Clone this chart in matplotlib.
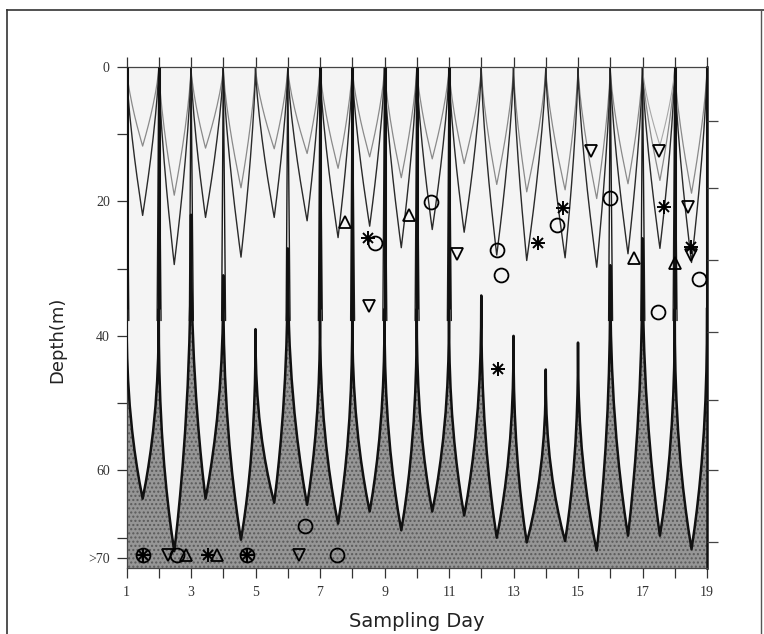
import numpy as np
import matplotlib
matplotlib.use("Agg")
import matplotlib.pyplot as plt

# ---------------------------------------------------------------- data
# sampling day d runs from d to d+1; noon_time is the time of the daily extreme
day_start = np.arange(1, 19)
noon_time = [1.50, 2.48, 3.45, 4.55, 5.58, 6.60, 7.56, 8.54, 9.52,
             10.48, 11.47, 12.48, 13.41, 14.60, 15.58, 16.55, 17.54, 18.52]

# noon depth (m) of the upper (grey) and middle (dark) isolumes
iso_upper = [11.8, 19.1, 12.1, 18.0, 12.2, 12.9, 15.1, 13.4, 16.5,
             13.7, 14.4, 17.5, 18.6, 18.3, 19.6, 17.4, 16.9, 18.8]
iso_middle = [22.1, 29.4, 22.4, 28.3, 22.4, 22.9, 25.4, 23.7, 26.9,
              24.2, 24.6, 28.0, 28.8, 28.4, 29.8, 27.8, 27.0, 29.1]
# faint shallow isolume, present on day 17 only
faint_day = 17
faint_depth = 11.7

# deep isolume: noon trough depth per day and top of the dark zone at each midnight (days 1..19)
deep_noon = [64.2, 72.0, 64.2, 70.3, 64.8, 65.1, 67.9, 66.1, 68.9,
             66.1, 66.7, 70.0, 70.7, 70.5, 71.9, 69.7, 69.7, 71.7]
deep_midnight = [36, 36, 22, 31, 39, 27, 36, 36, 36, 36, 36, 34, 40, 45, 41, 29.5, 25.5, 36, 36]
# midnights where the deep isolume reaches the surface
surface_days = [1, 2, 7, 8, 9, 10, 11, 18, 19]

# midnight spikes of the lower cut-off isolume (drawn down to its cut-off depth)
spike_days = [1, 2, 3, 4, 6, 7, 8, 9, 10, 11, 16, 17, 18]
spike_cutoff = 37.3

# shape of a half-day limb: position from midnight to noon and fraction of the excursion
half_pos = np.array([0.0, 0.01, 0.04, 0.10, 0.20, 0.35, 0.50, 0.65, 0.80, 0.90, 1.0])
iso_shape = np.array([0.0, 0.040, 0.105, 0.200, 0.324, 0.479, 0.616, 0.740, 0.855, 0.929, 1.0])
deep_shape = np.array([0.0, 0.144, 0.259, 0.380, 0.509, 0.643, 0.747, 0.834, 0.911, 0.957, 1.0])

# fish positions (day, depth)
circle_pts = [(8.72, 26.2), (10.45, 20.1), (12.50, 27.3), (12.60, 31.0), (14.34, 23.5),
              (15.99, 19.5), (17.49, 36.5), (18.75, 31.6), (6.52, 68.2),
              (1.52, 72.5), (2.56, 72.5), (4.73, 72.5), (7.52, 72.5)]
star_pts = [(8.48, 25.4), (12.52, 44.9), (13.77, 26.2), (14.54, 21.0), (17.67, 20.8),
            (18.51, 26.8), (1.52, 72.5), (3.54, 72.5), (4.73, 72.5)]
tri_up_pts = [(7.79, 23.1), (9.77, 22.0), (16.75, 28.4), (18.02, 29.1),
              (2.84, 72.5), (3.80, 72.5)]
tri_down_pts = [(8.53, 35.6), (11.25, 27.8), (15.40, 12.6), (17.52, 12.5),
                (18.41, 20.8), (18.51, 28.0), (2.30, 72.5), (6.35, 72.5)]

x_ticks = list(range(1, 20))
y_major = [0, 20, 40, 60, 73]
y_labels = ["0", "20", "40", "60", ">70"]
y_minor = [10, 30, 50, 70]
right_ticks = [8.1, 18.0, 28.7, 39.5, 49.6, 60.0, 70.7]
y_bottom = 74.5


def daily_curve(starts, noons, lows, tops, shape):
    xs, ys = [], []
    for i, (s, n, low) in enumerate(zip(starts, noons, lows)):
        e = s + 1
        t0, t1 = tops[i], tops[i + 1]
        xs.append(s + (n - s) * half_pos)
        ys.append(t0 + (low - t0) * shape)
        xs.append((e - (e - n) * half_pos)[::-1][1:])
        ys.append((t1 + (low - t1) * shape)[::-1][1:])
    return np.concatenate(xs), np.concatenate(ys)


fig = plt.figure(figsize=(7.64, 6.34), dpi=100, facecolor="white")
ax = fig.add_axes([0.1656, 0.1041, 0.7598, 0.7907])
ax.set_facecolor("#f4f4f4")

# deep isolume and the dark zone beneath it
zeros = [0] * 19
dx, dy = daily_curve(day_start, noon_time, deep_noon, deep_midnight, deep_shape)
ax.fill_between(dx, dy, y_bottom, facecolor="#969696", edgecolor="#5a5a5a",
                hatch="....", linewidth=0, zorder=1)
ax.plot(dx, dy, color="#111111", lw=1.8, zorder=3, solid_joinstyle="round")
for d in surface_days:
    ax.plot([d, d], [0, deep_midnight[d - 1]], color="#111111", lw=2.2, zorder=3,
            solid_capstyle="butt")

# upper and middle isolumes
ux, uy = daily_curve(day_start, noon_time, iso_upper, zeros, iso_shape)
ax.plot(ux, uy, color="#8a8a8a", lw=0.9, zorder=2)
mx, my = daily_curve(day_start, noon_time, iso_middle, zeros, iso_shape)
ax.plot(mx, my, color="#2a2a2a", lw=1.0, zorder=2)
i17 = faint_day - 1
fx, fy = daily_curve([faint_day], [noon_time[i17]], [faint_depth], [0, 0], iso_shape)
ax.plot(fx, fy, color="#a8a8a8", lw=0.8, zorder=2)

# midnight spikes of the cut-off isolume
for d in spike_days:
    ax.plot([d - 0.05, d - 0.05, d, d + 0.07, d + 0.07],
            [spike_cutoff + 0.4, spike_cutoff, 0, spike_cutoff, spike_cutoff + 0.4],
            color="#1a1a1a", lw=1.0, zorder=2)

# fish markers
mk = dict(linestyle="none", color="black", zorder=6, clip_on=False)
cx, cy = zip(*circle_pts)
ax.plot(cx, cy, marker="o", ms=10, mfc="none", mew=1.3, **mk)
sx, sy = zip(*star_pts)
ax.plot(sx, sy, marker="+", ms=10, mew=1.4, **mk)
ax.plot(sx, sy, marker="x", ms=7.5, mew=1.4, **mk)
tx, ty = zip(*tri_up_pts)
ax.plot(tx, ty, marker="^", ms=9, mfc="none", mew=1.3, **mk)
vx, vy = zip(*tri_down_pts)
ax.plot(vx, vy, marker="v", ms=9, mfc="none", mew=1.3, **mk)

# axes
ax.set_xlim(1, 19)
ax.set_ylim(y_bottom, 0)
ax.set_xticks([t for t in x_ticks if t % 2 == 1])
ax.set_xticks([t for t in x_ticks if t % 2 == 0], minor=True)
ax.set_yticks(y_major)
ax.set_yticklabels(y_labels)
ax.set_yticks(y_minor, minor=True)
for lab in ax.get_xticklabels() + ax.get_yticklabels():
    lab.set_fontfamily("Liberation Serif")
    lab.set_fontsize(10)
    lab.set_color("#222222")
ax.tick_params(axis="x", which="both", direction="out", length=7, width=0.9,
               top=True, pad=6, colors="#333333")
ax.tick_params(axis="y", which="both", direction="out", length=7, width=0.9,
               pad=5, colors="#333333")
for s in ax.spines.values():
    s.set_linewidth(0.9)
    s.set_color("#444444")
ax.spines["right"].set_linewidth(1.8)
ax.spines["right"].set_color("#111111")

rax = ax.twinx()
rax.set_ylim(y_bottom, 0)
rax.set_yticks(right_ticks)
rax.set_yticklabels([])
rax.tick_params(axis="y", direction="out", length=8, width=0.9, colors="#444444")
for s in rax.spines.values():
    s.set_visible(False)

ax.set_xlabel("Sampling Day", fontsize=14, color="#222222")
ax.xaxis.set_label_coords(0.5, -0.088)
ax.set_ylabel("Depth(m)", fontsize=13, color="#222222")
ax.yaxis.set_label_coords(-0.104, 0.455)

# page frame
fig.add_artist(plt.Line2D([0.0092, 0.0092], [0.0, 0.984], color="#333333", lw=1.2))
fig.add_artist(plt.Line2D([0.0092, 1.0], [0.984, 0.984], color="#333333", lw=1.2))
fig.add_artist(plt.Line2D([0.996, 0.996], [0.0, 0.984], color="#555555", lw=1.0))

fig.savefig("out.png", dpi=100, facecolor="white")
